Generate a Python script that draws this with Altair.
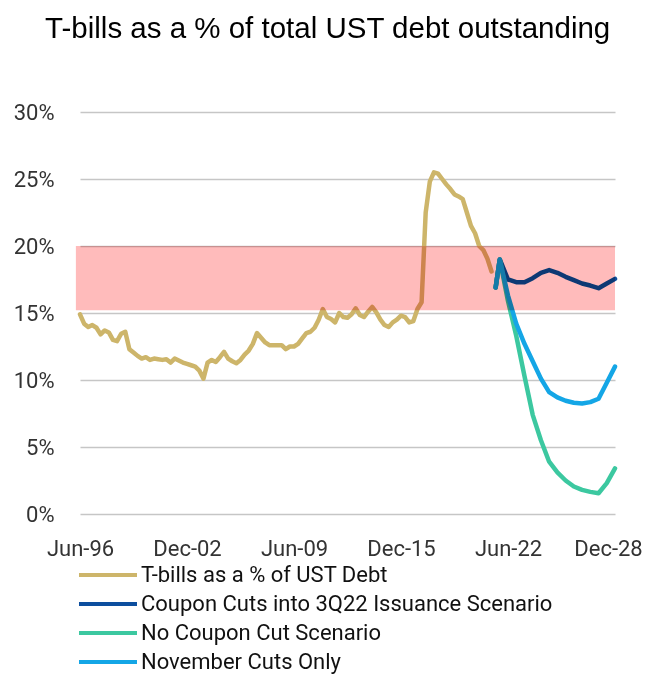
import json
import altair as alt
import pandas as pd

chart_title = "T-bills as a % of total UST debt outstanding"

series_names = [
    "T-bills as a % of UST Debt",
    "Coupon Cuts into 3Q22 Issuance Scenario",
    "No Coupon Cut Scenario",
    "November Cuts Only",
]
series_colors = ["#CDB56A", "#0D4E9E", "#3CC8A0", "#14A6E6"]

# x axis: months since Jun-96
tick_labels = ["Jun-96", "Dec-02", "Jun-09", "Dec-15", "Jun-22", "Dec-28"]
tick_dates = ["1996-06", "2002-12", "2009-06", "2015-12", "2022-06", "2028-12"]
y_ticks = [0, 5, 10, 15, 20, 25, 30]

# Historical T-bill share (%), quarterly from Jun-96 to Jun-21
gold_start = "1996-06"
gold = [
    14.9, 14.2, 13.95, 14.1, 13.9, 13.4, 13.7, 13.55, 13.0, 12.9,
    13.45, 13.6, 12.3, 12.05, 11.8, 11.6, 11.7, 11.5, 11.6, 11.55,
    11.5, 11.55, 11.3, 11.6, 11.45, 11.3, 11.2, 11.1, 11.0, 10.7,
    10.1, 11.3, 11.5, 11.35, 11.7, 12.1, 11.6, 11.4, 11.25, 11.5,
    11.9, 12.2, 12.7, 13.5, 13.15, 12.8, 12.6, 12.6, 12.6, 12.6,
    12.3, 12.5, 12.5, 12.7, 13.1, 13.5, 13.6, 13.9, 14.5, 15.3,
    14.7, 14.55, 14.3, 15.0, 14.7, 14.65, 14.9, 15.35, 14.85, 14.7,
    15.1, 15.45, 15.05, 14.5, 14.1, 13.95, 14.3, 14.5, 14.8, 14.7,
    14.3, 14.4, 15.3, 15.8, 22.5, 24.8, 25.5, 25.4, 25.0, 24.6,
    24.25, 23.85, 23.7, 23.5, 22.5, 21.5, 20.95, 20.0, 19.7, 19.05,
    18.1,
]

# Projections
proj_dates = [
    "2021-09", "2021-12", "2022-06", "2022-12", "2023-06", "2023-12",
    "2024-06", "2024-12", "2025-06", "2025-12", "2026-06", "2026-12",
    "2027-06", "2027-12", "2028-06", "2028-12",
]
coupon_cuts = [16.9, 19.0, 17.5, 17.3, 17.3, 17.6, 18.0, 18.2, 18.0, 17.7, 17.45, 17.2, 17.05, 16.85, 17.2, 17.55]
no_cut = [16.9, 19.0, 15.9, 13.3, 10.3, 7.4, 5.5, 3.9, 3.1, 2.5, 2.05, 1.8, 1.65, 1.55, 2.3, 3.4]
nov_cuts = [16.9, 19.0, 16.3, 14.2, 12.7, 11.4, 10.1, 9.1, 8.7, 8.45, 8.3, 8.25, 8.35, 8.6, 9.8, 11.0]

# Target band (%)
band_low, band_high = 15.2, 20.0
band_start, band_end = "1996-03", "2028-12"


def months(d):
    y, m = map(int, d.split("-"))
    return (y - 1996) * 12 + (m - 6)


g0 = months(gold_start)
frames = [pd.DataFrame({"m": [g0 + 3 * i for i in range(len(gold))], "v": gold,
                        "s": series_names[0], "k": 0})]
for k, vals in enumerate([coupon_cuts, no_cut, nov_cuts], start=1):
    frames.append(pd.DataFrame({"m": [months(d) for d in proj_dates], "v": vals,
                                "s": series_names[k], "k": k}))
df = pd.concat(frames, ignore_index=True)

band_df = pd.DataFrame({"x": [months(band_start)], "x2": [months(band_end)],
                        "y": [band_low], "y2": [band_high]})

tick_months = [months(d) for d in tick_dates]
label_expr = "{}[indexof({}, datum.value)]".format(json.dumps(tick_labels), json.dumps(tick_months))

FONT = "Roboto"

lines = alt.Chart(df).mark_line(strokeWidth=4.5, strokeJoin="round", strokeCap="round").encode(
    x=alt.X("m:Q",
            scale=alt.Scale(domain=[tick_months[0], tick_months[-1]], nice=False, zero=False),
            axis=alt.Axis(values=tick_months, labelExpr=label_expr, title=None, grid=False,
                          domain=False, ticks=False, labelFontSize=22, labelFont=FONT,
                          labelColor="#333333", labelPadding=24, labelFlush=False,
                          labelOverlap=False,
                          labelOffset={"condition": {"test": "datum.value == %d" % tick_months[-1],
                                                     "value": -7}, "value": 0})),
    y=alt.Y("v:Q",
            scale=alt.Scale(domain=[0, 30], nice=False),
            axis=alt.Axis(values=y_ticks, labelExpr="datum.value + '%'", title=None,
                          domain=False, ticks=False, gridColor="#C6C6C6", gridWidth=1.5,
                          labelFontSize=22, labelFont=FONT, labelColor="#333333",
                          labelPadding=26)),
    color=alt.Color("s:N",
                    scale=alt.Scale(domain=series_names, range=series_colors),
                    legend=alt.Legend(title=None, orient="none", legendX=-3, legendY=451,
                                      direction="vertical", symbolType="stroke",
                                      symbolSize=3364, symbolStrokeWidth=4, clipHeight=24,
                                      rowPadding=5, labelFontSize=22, labelFont=FONT,
                                      labelColor="#111111", labelOffset=2, labelLimit=0)),
    order=alt.Order("m:Q"),
)

band = alt.Chart(band_df).mark_rect(color="#FFBBBB", blend="multiply").encode(
    x="x:Q", x2="x2:Q", y="y:Q", y2="y2:Q"
)

chart = alt.layer(lines, band).properties(
    width=535,
    height=402,
    autosize="none",
    padding={"left": 72, "top": 104, "right": 29, "bottom": 163},
    title=alt.TitleParams(chart_title, font="Liberation Sans", fontSize=29.5,
                          fontWeight="normal", color="#000000", anchor="middle",
                          frame="bounds", offset=57),
).configure_view(stroke=None)

chart.save("out.html", embed_options={"renderer": "svg", "actions": False})
